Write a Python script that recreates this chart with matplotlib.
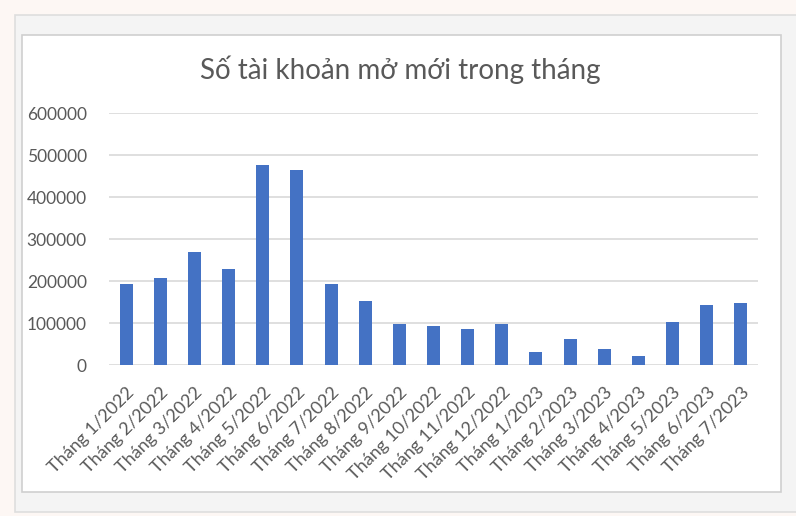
import matplotlib.pyplot as plt
from matplotlib.patches import Rectangle

months = ['Tháng 1/2022', 'Tháng 2/2022', 'Tháng 3/2022', 'Tháng 4/2022',
          'Tháng 5/2022', 'Tháng 6/2022', 'Tháng 7/2022', 'Tháng 8/2022',
          'Tháng 9/2022', 'Tháng 10/2022', 'Tháng 11/2022', 'Tháng 12/2022',
          'Tháng 1/2023', 'Tháng 2/2023', 'Tháng 3/2023', 'Tháng 4/2023',
          'Tháng 5/2023', 'Tháng 6/2023', 'Tháng 7/2023']
accounts = [193000, 208000, 269000, 229000, 476000, 465000, 193000, 153000,
            97000, 92000, 87000, 97000, 32000, 62000, 37000, 21500,
            103000, 143000, 148000]
yticks = [0, 100000, 200000, 300000, 400000, 500000, 600000]

plt.rcParams['font.family'] = ['Lato', 'DejaVu Sans']
W, H = 796, 516
fig = plt.figure(figsize=(W / 100, H / 100), dpi=100, facecolor='#fdf7f4')

# background panels (pixel coords converted to figure fractions)
def box(x0, y0, x1, y1, fc, ec=None):
    fig.patches.append(Rectangle((x0 / W, 1 - y1 / H), (x1 - x0) / W, (y1 - y0) / H,
                                 transform=fig.transFigure, facecolor=fc,
                                 edgecolor=ec if ec else 'none', lw=1.2, zorder=-2))

box(15, 15, 800, 512, '#f4f4f4', '#dedede')
box(22, 35, 781, 492, 'white', '#cfcfcf')

ax = fig.add_axes([109 / W, 1 - 365 / H, (758 - 109) / W, (365 - 113.3) / H])
ax.set_zorder(2)
ax.set_facecolor('none')
x = range(len(months))
ax.bar(x, accounts, width=0.38, color='#4472c4', zorder=3)

ax.set_xlim(-0.5, len(months) - 0.5)
ax.set_ylim(0, 600000)
ax.set_yticks(yticks)
ax.set_yticklabels([str(v) for v in yticks])
ax.set_xticks(list(x))
ax.set_xticklabels(months, rotation=45, ha='right', rotation_mode='anchor')
ax.tick_params(length=0, labelsize=12.5, colors='#595959')
ax.tick_params(axis='x', pad=14, labelsize=13)
ax.tick_params(axis='y', pad=16)
ax.grid(axis='y', color='#d9d9d9', lw=1.2, zorder=0)
for s in ax.spines.values():
    s.set_visible(False)

fig.text(400 / W, 1 - 70 / H, 'Số tài khoản mở mới trong tháng', ha='center',
         va='center', fontsize=20, color='#595959', zorder=3)

fig.savefig('out.png', dpi=100, facecolor=fig.get_facecolor())
